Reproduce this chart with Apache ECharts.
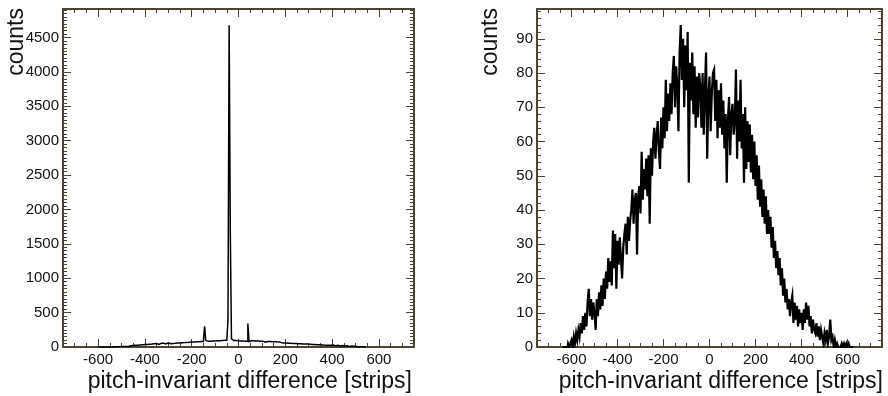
<!DOCTYPE html>
<html>
<head>
<meta charset="utf-8">
<script src="https://cdn.jsdelivr.net/npm/echarts@6/dist/echarts.min.js"></script>
<style>
  html, body { margin: 0; padding: 0; background: #fff; }
  #chart { width: 888px; height: 396px; }
</style>
</head>
<body>
<div id="chart"></div>
<script>
// Histogram binning (strips)
const binWidth = 5;
const leftStart = -600;
const rightStart = -640;

// Left histogram: counts per 5-strip bin starting at -600
const leftCounts = [
  0,0,0,0,0,0,0,1,0,1, 1,2,0,3,1,2,5,2,6,3,
  9,5,12,7,14,9,16,11,19,13, 22,15,25,18,27,20,30,22,33,25,
  36,27,38,30,41,32,43,34,46,36, 49,38,51,41,53,43,56,45,58,48,
  60,49,63,52,66,54,68,57,71,59, 74,62,77,64,79,67,82,69,85,72,
  86,73,89,75,91,77,94,79,96,81, 93,300,97,82,99,84,102,86,104,88,
  106,90,108,92,110,95,112,97,114,99, 116,390,4680,1650,118,96,110,93,106,90,
  103,88,100,86,97,84,95,82,340,80, 92,78,90,76,88,75,86,73,84,71,
  84,72,82,70,81,69,80,67,78,66, 77,64,75,63,74,62,72,60,70,58,
  68,57,66,55,64,53,62,52,60,50, 58,48,56,47,54,45,52,43,50,42,
  49,40,47,38,45,36,43,34,41,32, 39,30,37,28,35,27,33,25,31,24,
  29,22,27,20,25,18,23,16,21,14, 19,13,17,11,15,9,13,8,10,6,
  7,4,5,3,4,2,2,1,1,0
];

// Right histogram: counts per 5-strip bin starting at -640
const rightCounts = [
  0,0,0,0,0,1,0,1,2,0,3,1,4,2,5,3,7,4,9,5,
  10,6,13,17,9,14,8,13,10,5,14,9,16,11,18,12,20,14,22,17,
  26,19,25,18,34,23,33,17,31,24,32,26,20,29,33,36,27,38,31,37,
  40,46,36,43,45,27,44,47,39,57,43,52,46,55,44,56,36,58,50,60,
  64,55,62,66,57,52,67,58,70,61,78,63,74,66,77,68,80,85,70,82,
  76,63,86,94,78,90,70,88,75,92,48,83,72,86,68,82,64,79,67,80,
  76,64,80,62,75,86,55,73,79,63,74,80,81,66,78,61,75,64,77,62,
  72,58,68,48,66,73,56,68,71,62,66,81,55,72,60,78,58,68,48,70,
  52,66,54,65,51,62,49,60,47,56,43,53,41,49,38,46,36,44,33,40,
  33,38,29,35,26,31,23,28,21,26,18,23,15,20,13,17,11,14,9,13,
  15,7,13,8,12,6,11,7,10,5,11,7,13,8,12,6,9,4,8,5,
  4,7,3,6,2,5,3,1,4,2,5,1,3,8,2,3,0,2,0,1,
  0,0,0,1,0,1,0,1,0,1,0,0,0,0
];

// Axis ranges and tick labels
const xRange = [-750, 750];
const xTickLabels = [-600, -400, -200, 0, 200, 400, 600];
const leftYMax = 4915;
const leftYTickLabels = [0, 500, 1000, 1500, 2000, 2500, 3000, 3500, 4000, 4500];
const rightYMax = 98.7;
const rightYTickLabels = [0, 10, 20, 30, 40, 50, 60, 70, 80, 90];

const frameColor = '#4a4330';
const textColor = '#111';
const fontFamily = '"Liberation Sans", Arial, Helvetica, sans-serif';

function steps(from, to, step) {
  const out = [];
  for (let v = from; v <= to + 1e-9; v += step) out.push(+v.toFixed(6));
  return out;
}

function binsToPoints(start, counts) {
  return counts.map((c, i) => [start + (i + 0.5) * binWidth, c]);
}

// One axis of the frame: either major (long ticks) or minor (short ticks)
function frameAxis(kind, gridIndex, position, min, max, ticks, len, labels, drawLine) {
  return {
    type: 'value',
    gridIndex: gridIndex,
    position: position,
    min: min,
    max: max,
    splitLine: { show: false },
    axisLine: { show: drawLine, onZero: false, lineStyle: { color: frameColor, width: 2 } },
    axisTick: {
      show: true, inside: true, length: len,
      customValues: ticks,
      lineStyle: { color: frameColor, width: 1 }
    },
    axisLabel: labels ? {
      show: true,
      customValues: labels,
      formatter: function (v) { return String(v); },
      color: textColor,
      fontFamily: fontFamily,
      fontSize: 15,
      margin: kind === 'x' ? 5 : 4
    } : { show: false }
  };
}

function buildAxes(gridIndex, yMax, yMajors, yMinorStep, yLabels) {
  const xMajors = xTickLabels.slice();
  const xMinors = steps(-750, 750, 50);
  const yMinors = steps(0, yMax, yMinorStep);
  const xAxes = [
    frameAxis('x', gridIndex, 'bottom', xRange[0], xRange[1], xMajors, 8, xTickLabels, true),
    frameAxis('x', gridIndex, 'bottom', xRange[0], xRange[1], xMinors, 4, null, false),
    frameAxis('x', gridIndex, 'top', xRange[0], xRange[1], xMajors, 8, null, true),
    frameAxis('x', gridIndex, 'top', xRange[0], xRange[1], xMinors, 4, null, false)
  ];
  const yAxes = [
    frameAxis('y', gridIndex, 'left', 0, yMax, yMajors, 8, yLabels, true),
    frameAxis('y', gridIndex, 'left', 0, yMax, yMinors, 4, null, false),
    frameAxis('y', gridIndex, 'right', 0, yMax, yMajors, 8, null, true),
    frameAxis('y', gridIndex, 'right', 0, yMax, yMinors, 4, null, false)
  ];
  return { xAxes, yAxes };
}

const leftAxes = buildAxes(0, leftYMax, leftYTickLabels, 50, leftYTickLabels);
const rightAxes = buildAxes(1, rightYMax, rightYTickLabels, 2, rightYTickLabels);

function histSeries(xAxisIndex, yAxisIndex, points, width) {
  return {
    type: 'line',
    step: 'middle',
    xAxisIndex: xAxisIndex,
    yAxisIndex: yAxisIndex,
    data: points,
    showSymbol: false,
    symbol: 'none',
    silent: true,
    animation: false,
    lineStyle: { color: '#000', width: width, join: 'miter' },
    z: 3
  };
}

function axisTitle(x, y, text, rotated) {
  return {
    type: 'text',
    x: x,
    y: y,
    rotation: rotated ? Math.PI / 2 : 0,
    style: {
      text: text,
      fill: textColor,
      font: '23px ' + fontFamily,
      textAlign: 'right',
      textVerticalAlign: 'middle'
    }
  };
}

const chart = echarts.init(document.getElementById('chart'), null, { renderer: 'canvas' });
chart.setOption({
  animation: false,
  backgroundColor: '#fff',
  grid: [
    { left: 63, top: 9, width: 351, height: 338 },
    { left: 537, top: 9, width: 345, height: 338 }
  ],
  xAxis: leftAxes.xAxes.concat(rightAxes.xAxes),
  yAxis: leftAxes.yAxes.concat(rightAxes.yAxes),
  series: [
    histSeries(0, 0, binsToPoints(leftStart, leftCounts), 1.5),
    histSeries(4, 4, binsToPoints(rightStart, rightCounts), 2.2)
  ],
  graphic: [
    axisTitle(412, 382, 'pitch-invariant difference [strips]', false),
    axisTitle(883, 382, 'pitch-invariant difference [strips]', false),
    axisTitle(17, 8, 'counts', true),
    axisTitle(491, 8, 'counts', true)
  ]
});
</script>
</body>
</html>
